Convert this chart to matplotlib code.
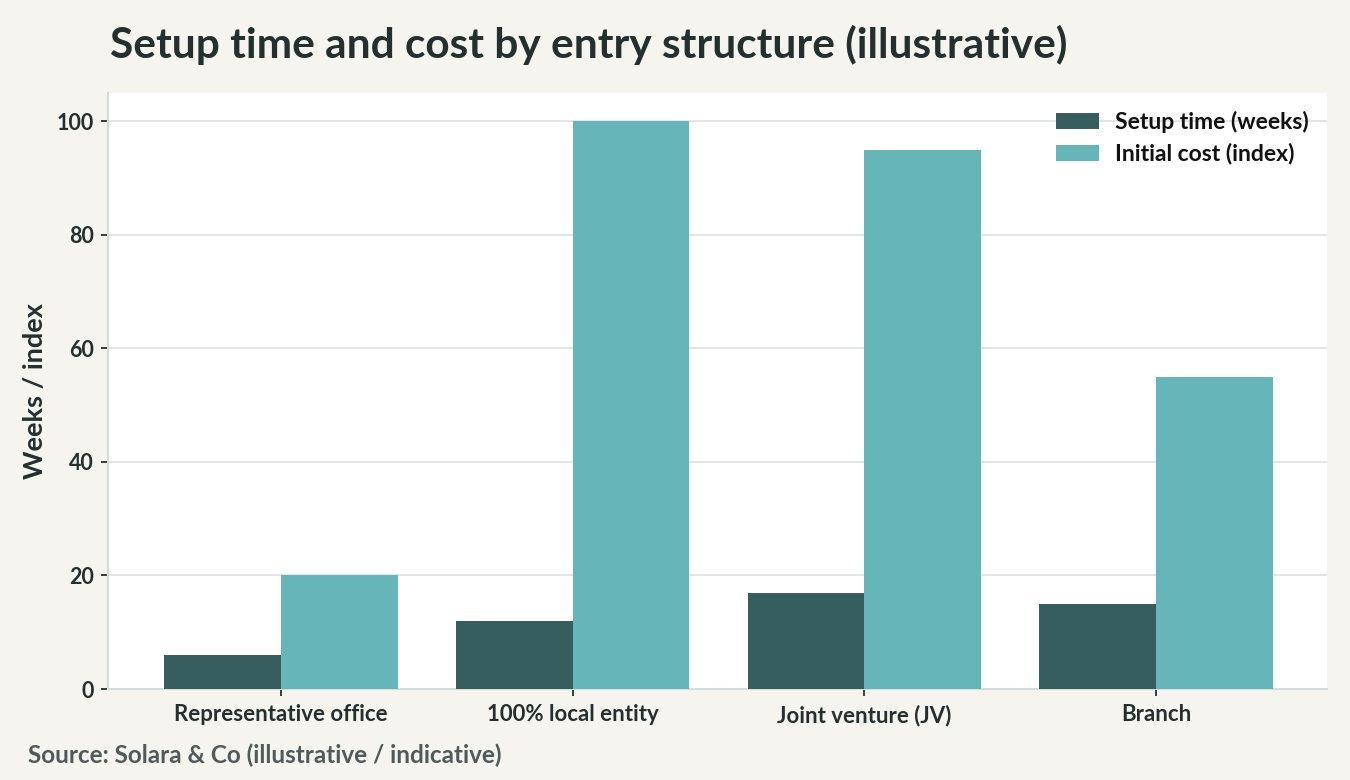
import matplotlib
matplotlib.use("Agg")
import matplotlib.pyplot as plt
import numpy as np

categories = ["Representative office", "100% local entity", "Joint venture (JV)", "Branch"]
setup_weeks = [6, 12, 17, 15]
initial_cost = [20, 100, 95, 55]
yticks = [0, 20, 40, 60, 80, 100]

plt.rcParams['font.family'] = ['Lato', 'DejaVu Sans']
plt.rcParams['font.weight'] = 'bold'

BG = '#f5f4ef'
DARK = '#375e5f'
LIGHT = '#66b5b9'
TXT = '#23302f'

fig = plt.figure(figsize=(13.5, 7.8), dpi=100, facecolor=BG)
ax = fig.add_axes([108/1350, 1 - 689/780, (1327-108)/1350, (689-93)/780])
ax.set_facecolor('white')

x = np.arange(len(categories))
w = 0.4
ax.bar(x - w/2, setup_weeks, w, color=DARK, label='Setup time (weeks)', zorder=3)
ax.bar(x + w/2, initial_cost, w, color=LIGHT, label='Initial cost (index)', zorder=3)

ax.set_xlim(-0.593, 3.586)
ax.set_ylim(0, 105)
ax.set_yticks(yticks)
ax.set_xticks(x)
ax.set_xticklabels(categories)
ax.grid(axis='y', color='#dde3e2', linewidth=1.2, zorder=0)
ax.set_axisbelow(True)
for s in ['top', 'right']:
    ax.spines[s].set_visible(False)
for s in ['left', 'bottom']:
    ax.spines[s].set_color('#d5dddc')
    ax.spines[s].set_linewidth(1.5)
ax.tick_params(axis='y', colors=TXT, labelsize=15.5, length=5, width=1.3, pad=5)
ax.tick_params(axis='x', colors=TXT, labelsize=16, length=5, width=1.3, pad=6)
for lbl in ax.get_xticklabels() + ax.get_yticklabels():
    lbl.set_fontweight('bold')
    lbl.set_color(TXT)

ax.set_ylabel('Weeks / index', fontsize=19.5, fontweight='bold', color=TXT, labelpad=7)

leg = ax.legend(loc='upper right', frameon=False, fontsize=16.5, handlelength=1.85,
                handleheight=0.7, borderaxespad=0.4, handletextpad=0.7, labelspacing=0.42)
for t in leg.get_texts():
    t.set_fontweight('bold')
    t.set_color('#111111')

fig.text(110/1350, 1 - 45/780, 'Setup time and cost by entry structure (illustrative)',
         fontsize=30.5, fontweight='bold', color=TXT, va='center', ha='left')
fig.text(28/1350, 1 - 755/780, 'Source: Solara & Co (illustrative / indicative)',
         fontsize=17.5, fontweight='bold', color='#4f5b5a', va='center', ha='left')

fig.savefig('out.png', dpi=100, facecolor=BG)
